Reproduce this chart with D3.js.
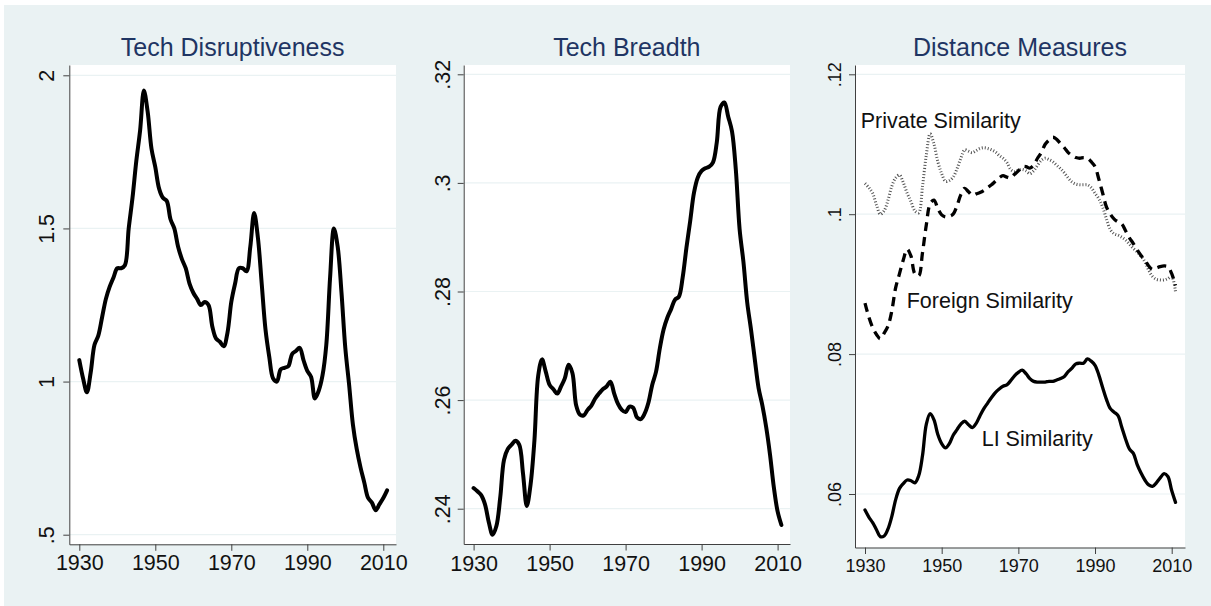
<!DOCTYPE html>
<html>
<head>
<meta charset="utf-8">
<script src="https://cdn.jsdelivr.net/npm/d3@7"></script>
<style>
  body { margin: 0; background: #fff; }
  svg { display: block; font-family: 'Liberation Sans', Arial, sans-serif; }
</style>
</head>
<body>
<div id="chart"></div>
<script>
const years = d3.range(1930, 2012);

const disruptiveness = [
  1.07, 1.01, 0.965, 1.03, 1.12, 1.15, 1.21, 1.27, 1.31, 1.34,
  1.37, 1.37, 1.38, 1.50, 1.60, 1.72, 1.82, 1.95, 1.88, 1.76,
  1.70, 1.63, 1.60, 1.59, 1.53, 1.50, 1.44, 1.40, 1.37, 1.32,
  1.29, 1.27, 1.25, 1.26, 1.25, 1.18, 1.14, 1.13, 1.115, 1.16,
  1.26, 1.32, 1.37, 1.37, 1.36, 1.44, 1.55, 1.47, 1.32, 1.17,
  1.08, 1.01, 1.00, 1.04, 1.045, 1.05, 1.09, 1.10, 1.11, 1.07,
  1.035, 1.015, 0.945, 0.97, 1.02, 1.12, 1.34, 1.50, 1.44, 1.29,
  1.11, 0.99, 0.86, 0.78, 0.72, 0.67, 0.62, 0.605, 0.58, 0.60,
  0.62, 0.645
];

const breadth = [
  .2438, .2432, .2425, .2408, .2375, .2352, .2368, .2420, .2490, .2510,
  .2518, .2525, .2518, .2465, .2405, .2445, .2525, .2645, .2675, .2652,
  .2628, .2620, .2612, .2625, .2640, .2665, .2650, .2590, .2573, .2572,
  .2582, .2590, .2603, .2612, .2620, .2625, .2634, .2612, .2593, .2582,
  .2578, .2588, .2586, .2568, .2565, .2575, .2595, .2628, .2652, .2695,
  .2730, .2752, .2768, .2785, .2790, .2825, .2880, .2930, .2982, .3010,
  .3022, .3027, .3030, .3038, .3075, .3140, .3148, .3122, .3095, .3025,
  .2915, .2855, .2780, .2730, .2675, .2622, .2590, .2550, .2500, .2440,
  .2395, .2370
];

const liSimilarity = [
  .0577, .0567, .0559, .0549, .0539, .0540, .0550, .0568, .0592, .0608,
  .0615, .0620, .0619, .0616, .0626, .0655, .0700, .0715, .0706, .0685,
  .0672, .0666, .0672, .0684, .0692, .0700, .0704, .0699, .0695, .0701,
  .0712, .0722, .0730, .0738, .0745, .0750, .0754, .0756, .0762, .0769,
  .0774, .0777, .0772, .0765, .0761, .0760, .0760, .0760, .0761, .0761,
  .0763, .0765, .0768, .0775, .0780, .0786, .0787, .0787, .0793, .0790,
  .0784, .0770, .0752, .0735, .0722, .0717, .0712, .0695, .0678, .0664,
  .0658, .0642, .0630, .0620, .0613, .0611, .0616, .0623, .0629, .0625,
  .0605, .0588
];

const foreignSimilarity = [
  .0873, .0853, .0838, .0828, .0822, .0830, .0840, .0862, .0895, .0915,
  .0935, .0950, .0940, .0915, .0912, .0945, .0985, .1015, .1020, .1008,
  .0999, .0996, .0997, .1000, .1012, .1028, .1037, .1032, .1027, .1029,
  .1031, .1034, .1038, .1042, .1047, .1052, .1055, .1053, .1052, .1057,
  .1062, .1068, .1068, .1066, .1070, .1080, .1088, .1100, .1106, .1110,
  .1107, .1101, .1095, .1088, .1084, .1081, .1080, .1081, .1080, .1075,
  .1068, .1050, .1030, .1010, .1000, .0993, .0989, .0986, .0976, .0966,
  .0958, .0949, .0941, .0934, .0926, .0921, .0923, .0925, .0926, .0925,
  .0915, .0898
];

const privateSimilarity = [
  .1044, .1038, .1030, .1013, .1000, .1005, .1020, .1040, .1052, .1056,
  .1045, .1030, .1018, .1005, .1002, .1040, .1085, .1115, .1100, .1075,
  .1058, .1047, .1048, .1053, .1065, .1080, .1092, .1090, .1088, .1091,
  .1094, .1095, .1094, .1092, .1089, .1084, .1080, .1074, .1064, .1061,
  .1063, .1064, .1062, .1058, .1062, .1070, .1077, .1080, .1078, .1075,
  .1070, .1065, .1059, .1052, .1046, .1043, .1042, .1042, .1042, .1038,
  .1030, .1022, .1010, .0993, .0978, .0972, .0970, .0967, .0963, .0957,
  .0951, .0946, .0940, .0932, .0920, .0911, .0907, .0906, .0906, .0908,
  .0911, .0889
];

const yearTicks = [1930, 1950, 1970, 1990, 2010];
const disruptTicks = [0.5, 1, 1.5, 2];
const disruptLabels = ['.5', '1', '1.5', '2'];
const breadthTicks = [0.24, 0.26, 0.28, 0.3, 0.32];
const breadthLabels = ['.24', '.26', '.28', '.3', '.32'];
const distanceTicks = [0.06, 0.08, 0.1, 0.12];
const distanceLabels = ['.06', '.08', '.1', '.12'];

const seriesNames = ['LI Similarity', 'Foreign Similarity', 'Private Similarity'];

const width = 1211;
const height = 606;
const bgColor = '#eaf2f3';
const titleColor = '#1f3563';
const axisColor = '#404040';

// stretch a scale so that its range covers the whole plot box
function extendScale(scale, r0, r1) {
  return scale.copy()
    .domain([scale.invert(r0), scale.invert(r1)])
    .range([r0, r1]);
}

function drawPanel(svg, p) {
  const g = svg.append('g').attr('class', 'panel');

  g.append('rect')
    .attr('x', p.left)
    .attr('y', p.top)
    .attr('width', p.right - p.left)
    .attr('height', p.bottom - p.top)
    .attr('fill', '#fff');

  const x = d3.scaleLinear().domain([1930, 2010]).range(p.xRange);
  const y = d3.scaleLinear().domain(p.yDomain).range(p.yRange);
  const xAxisScale = extendScale(x, p.left, p.right);
  const yAxisScale = extendScale(y, p.bottom, p.top);

  // grid
  g.append('g')
    .selectAll('line')
    .data(p.yTicks)
    .join('line')
    .attr('x1', p.left)
    .attr('x2', p.right)
    .attr('y1', d => y(d))
    .attr('y2', d => y(d))
    .attr('stroke', bgColor)
    .attr('stroke-width', 1.2);

  const yAxis = g.append('g')
    .attr('transform', `translate(${p.left},0)`)
    .call(d3.axisLeft(yAxisScale)
      .tickValues(p.yTicks)
      .tickFormat((d, i) => p.yLabels[i])
      .tickSize(6)
      .tickSizeOuter(0)
      .tickPadding(0));
  yAxis.selectAll('path, line').attr('stroke', axisColor);
  // tick groups are already shifted to y(d), so only move sideways and turn
  yAxis.selectAll('text')
    .attr('font-size', p.tickFont)
    .attr('fill', '#111')
    .attr('x', null)
    .attr('dy', null)
    .attr('text-anchor', 'middle')
    .attr('transform', `translate(${p.yLabelX - p.left},0) rotate(-90)`);
  yAxis.attr('font-family', null).attr('font-size', null);

  const xAxis = g.append('g')
    .attr('transform', `translate(0,${p.bottom})`)
    .call(d3.axisBottom(xAxisScale)
      .tickValues(yearTicks)
      .tickFormat(d3.format('d'))
      .tickSize(6.5)
      .tickSizeOuter(0));
  xAxis.selectAll('path, line').attr('stroke', axisColor);
  xAxis.selectAll('text')
    .attr('font-size', p.tickFont)
    .attr('fill', '#111')
    .attr('dy', null)
    .attr('y', p.xLabelBase - p.bottom);
  xAxis.attr('font-family', null).attr('font-size', null);

  g.append('text')
    .text(p.title)
    .attr('x', (p.left + p.right) / 2)
    .attr('y', 55.5)
    .attr('text-anchor', 'middle')
    .attr('font-size', 25)
    .attr('fill', titleColor);

  const line = d3.line()
    .x((d, i) => x(years[i]))
    .y(d => y(d))
    .curve(d3.curveCatmullRom.alpha(0.5));

  p.series.forEach(s => {
    g.append('path')
      .datum(s.values)
      .attr('d', line)
      .attr('fill', 'none')
      .attr('stroke', s.color)
      .attr('stroke-width', s.width)
      .attr('stroke-dasharray', s.dash)
      .attr('stroke-linejoin', 'round')
      .attr('stroke-linecap', s.dash ? 'butt' : 'round');
  });

  if (p.labels) {
    g.append('g')
      .selectAll('text')
      .data(p.labels)
      .join('text')
      .text(d => d.text)
      .attr('x', d => d.x)
      .attr('y', d => d.y)
      .attr('font-size', 21.5)
      .attr('fill', '#111');
  }
}

const svg = d3.select('#chart')
  .append('svg')
  .attr('width', width)
  .attr('height', height);

svg.append('rect')
  .attr('x', 4)
  .attr('y', 5)
  .attr('width', width - 4)
  .attr('height', height - 5)
  .attr('fill', bgColor);

drawPanel(svg, {
  title: 'Tech Disruptiveness',
  left: 69.3, right: 396, top: 65, bottom: 544.3,
  xRange: [79.3, 383.3],
  yDomain: [0.5, 2], yRange: [534.7, 75.3],
  yTicks: disruptTicks, yLabels: disruptLabels,
  yLabelX: 53.5, xLabelBase: 570.5, tickFont: 21.5,
  series: [{ values: disruptiveness, color: '#000', width: 4, dash: null }]
});

drawPanel(svg, {
  title: 'Tech Breadth',
  left: 463.7, right: 790, top: 65, bottom: 544,
  xRange: [473.6, 777.6],
  yDomain: [0.24, 0.32], yRange: [508.7, 74.3],
  yTicks: breadthTicks, yLabels: breadthLabels,
  yLabelX: 449.5, xLabelBase: 570.5, tickFont: 21.5,
  series: [{ values: breadth, color: '#000', width: 4, dash: null }]
});

drawPanel(svg, {
  title: 'Distance Measures',
  left: 855, right: 1185, top: 65, bottom: 547.5,
  xRange: [865, 1171.7],
  yDomain: [0.06, 0.12], yRange: [494, 74.3],
  yTicks: distanceTicks, yLabels: distanceLabels,
  yLabelX: 841, xLabelBase: 571.5, tickFont: 18,
  series: [
    { values: privateSimilarity, color: '#555', width: 3, dash: '1,2' },
    { values: foreignSimilarity, color: '#000', width: 3.3, dash: '9,6' },
    { values: liSimilarity, color: '#000', width: 3.3, dash: null }
  ],
  labels: [
    { text: seriesNames[2], x: 860.7, y: 128.3 },
    { text: seriesNames[1], x: 906.7, y: 307.7 },
    { text: seriesNames[0], x: 981.7, y: 446 }
  ]
});
</script>
</body>
</html>
